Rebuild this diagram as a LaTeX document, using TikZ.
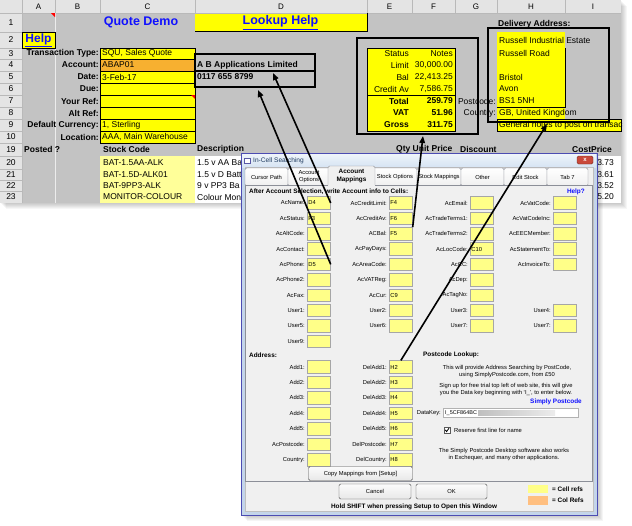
\documentclass[tikz,border=0pt]{standalone}
\usepackage{fontspec}
\setmainfont{Liberation Sans}
\usetikzlibrary{arrows.meta}

\definecolor{sheetgrey}{HTML}{C3C3C3}
\definecolor{hdrgrey}{HTML}{E4E4E4}
\definecolor{cellyellow}{HTML}{FFFF00}
\definecolor{paleyellow}{HTML}{FFFF99}
\definecolor{acorange}{HTML}{F7B030}
\definecolor{fieldyellow}{HTML}{FFFF88}
\definecolor{colorange}{HTML}{FFBF80}
\definecolor{winframe}{HTML}{C4D5EA}
\definecolor{wintitle}{HTML}{D6E4F3}
\definecolor{dlgface}{HTML}{F0F0F0}
\definecolor{tabedge}{HTML}{8C8F98}
\definecolor{linkblue}{HTML}{1010FF}
\definecolor{closered}{HTML}{C9493B}
\definecolor{titletext}{HTML}{1E3A5F}

\newcommand\sheetfont{\fontsize{8.5}{10}\selectfont}
\newcommand\dlgfont{\fontsize{5.8}{7}\selectfont}
\newcommand\dlgbold{\fontsize{6.4}{7.5}\selectfont\bfseries}

\begin{document}
\begin{tikzpicture}[x=1pt,y=-1pt,
    every node/.style={inner sep=0pt,font=\sheetfont},
    bcap/.style={anchor=east,font=\sheetfont\bfseries},
    ccell/.style={draw=black,line width=0.6pt},
    annot/.style={draw=black,line width=1.8pt},
    dlab/.style={anchor=east,font=\dlgfont},
    fld/.style={anchor=west,fill=fieldyellow,draw=gray!70,line width=0.7pt,
      minimum height=12.5pt,text width=21pt,inner sep=1pt,align=left,font=\dlgfont},
    tabbox/.style={draw=tabedge,top color=white,bottom color=gray!12,
      rounded corners=1.5pt,minimum height=18pt,align=center,font=\dlgfont},
    btn/.style={draw=gray!60!black,top color=gray!3,bottom color=gray!18,
      rounded corners=1.5pt,font=\dlgfont},
    arr/.style={-{Triangle[length=7pt,width=5.5pt]},line width=1.6pt}]

\useasboundingbox (0,0) rectangle (632,525);
\fill[white] (0,0) rectangle (632,525);

% sheet shadow
\foreach \s in {1,...,6}
  \fill[black,opacity=0.035] (\s,\s) rectangle (621+\s,203+\s);

% sheet
\fill[sheetgrey] (0,0) rectangle (621,203);
\fill[hdrgrey] (0,0) rectangle (621,13);
\fill[hdrgrey] (0,13) rectangle (22,203);
\foreach \x in {22,55,100,195,367,412,455,497,565}
  \draw[gray!55] (\x,0) -- (\x,13);
\foreach \y in {32,48,59,71,83,95,107,119,131,143,156,169,180,191}
  \draw[gray!55] (0,\y) -- (22,\y);
\draw[gray!55] (0,13) -- (621,13);
\draw[gray!55] (22,13) -- (22,203);
\draw[gray!15] (55,13) -- (55,203);
\foreach \x/\cl in {38.5/A,77.5/B,147.5/C,281/D,389.5/E,433.5/F,476/G,531/H,593/I}
  \node[font=\fontsize{8}{9}\selectfont] (col\cl) at (\x,7) {\cl};
\foreach \y/\n in {22.5/1,40/2,53.5/3,65/4,77/5,89/6,101/7,113/8,125/9,137/10,
    149.5/19,162.5/20,174.5/21,185.5/22,197/23}
  \node (row\n) at (11,\y) {\n};

% rows 1 and 2
\node[font=\fontsize{12.5}{14}\selectfont\bfseries,text=linkblue] (title) at (141,22.5) {Quote Demo};
\fill[cellyellow] (195,14) rectangle (367,31);
\draw[line width=0.8pt] (195,31) -- (367,31) -- (367,13);
\node[font=\fontsize{12.5}{14}\selectfont\bfseries,text=linkblue] (lookup) at (280.5,22.5) {\underline{Lookup Help}};
\node[fill=cellyellow,draw=black,line width=0.6pt,minimum width=33pt,minimum height=16pt,
  font=\fontsize{12}{14}\selectfont\bfseries,text=linkblue] (help) at (38.5,40) {\underline{Help}};
\fill[red] (51,13) -- (55,13) -- (55,17) -- cycle;

% header block
\foreach \rw/\y/\t in {3/53.5/Transaction Type:,4/65/Account:,5/77/Date:,6/89/Due:,
    7/101/Your Ref:,8/113/Alt Ref:,9/125/Default Currency:,10/137/Location:}
  \node[bcap] (lbl\rw) at (99,\y) {\t};
\foreach \rw/\a/\b/\cl/\vl in {3/48/59/cellyellow/{SQU, Sales Quote},4/59/71/acorange/ABAP01,
    5/71/83/cellyellow/3-Feb-17,6/83/95/cellyellow/{},7/95/107/cellyellow/{},
    8/107/119/cellyellow/{},9/119/131/cellyellow/{1, Sterling},
    10/131/143/cellyellow/{AAA, Main Warehouse}}{
  \draw[ccell,fill=\cl] (100,\a) rectangle (195,\b);
  \node[anchor=west] (val\rw) at (102,{(\a+\b)/2}) {\vl};
}
\fill[red] (191,95) -- (195,95) -- (195,99) -- cycle;
\node[anchor=west,font=\sheetfont\bfseries] (acname) at (197,65) {A B Applications Limited};
\node[anchor=west,font=\sheetfont\bfseries] (acphone) at (197,77) {0117 655 8799};

% totals block
\draw[ccell,fill=cellyellow] (367,48) rectangle (455,131);
\draw[line width=0.8pt] (367,95) -- (455,95);
\foreach \rw/\y/\lb/\vl in {3/53.5/Status/Notes,4/65/Limit/{30,000.00},
    5/77/Bal/{22,413.25},6/89/Credit Av/{7,586.75}}{
  \node[anchor=east] (flab\rw) at (409,\y) {\lb};
  \node[anchor=east] (fval\rw) at (453,\y) {\vl};
}
\foreach \rw/\y/\lb/\vl in {7/101/Total/259.79,8/113/VAT/51.96,9/125/Gross/311.75}{
  \node[anchor=east,font=\sheetfont\bfseries] (flab\rw) at (409,\y) {\lb};
  \node[anchor=east,font=\sheetfont\bfseries] (fval\rw) at (453,\y) {\vl};
}

% delivery address
\node[anchor=west,font=\sheetfont\bfseries] (deladdr) at (498,24) {Delivery Address:};
\fill[cellyellow] (497,32) rectangle (565,119);
\draw[line width=0.8pt] (565,48) -- (565,107) -- (497,107);
\foreach \rw/\y/\vl in {2/40/Russell Industrial Estate,3/53.5/Russell Road,5/77/Bristol,
    6/89/Avon,7/101/BS1 5NH,8/113/{GB, United Kingdom}}
  \node[anchor=west] (del\rw) at (499,\y) {\vl};
\node[anchor=east] (pclab) at (496,101) {Postcode:};
\node[anchor=east] (ctlab) at (496,113) {Country:};
\draw[ccell,fill=cellyellow] (497,119) rectangle (621,131);
\node[anchor=west] (notes) at (499,125) {General notes to post on transac};

% stock lines
\node[anchor=west,font=\sheetfont\bfseries] (posted) at (24,149.5) {Posted ?};
\node[anchor=west,font=\sheetfont\bfseries] (stockhdr) at (103,149.5) {Stock Code};
\node[anchor=west,font=\sheetfont\bfseries] (deschdr) at (197,149.5) {Description};
\node[anchor=west,font=\sheetfont\bfseries] (qtyhdr) at (396,149.5) {Qty Unit Price};
\node[anchor=west,font=\sheetfont\bfseries] (dischdr) at (460,149.5) {Discount};
\node[anchor=west,font=\sheetfont\bfseries] (costhdr) at (572,149.5) {CostPrice};
\fill[white] (195,156) rectangle (621,203);
\fill[paleyellow] (100,156) rectangle (195,203);
\foreach \rw/\y/\sc/\ds/\pr in {20/162.5/BAT-1.5AA-ALK/1.5 v AA Ba/3.73,
    21/174.5/BAT-1.5D-ALK01/1.5 v D Batt/3.61,22/185.5/BAT-9PP3-ALK/9 v PP3 Ba/3.52,
    23/197/MONITOR-COLOUR/Colour Mon/5.20}{
  \node[anchor=west] (code\rw) at (103,\y) {\sc};
  \node[anchor=west] (desc\rw) at (197,\y) {\ds};
  \node[anchor=east] (cost\rw) at (614,\y) {\pr};
}

% marked cells
\node[annot,minimum width=120pt,minimum height=17pt] (boxD4) at (255,62.5) {};
\node[annot,minimum width=120pt,minimum height=16pt] (boxD5) at (255,79) {};
\node[annot,minimum width=121pt,minimum height=96pt] (boxF) at (417.5,86) {};
\node[annot,minimum width=121pt,minimum height=94pt] (boxDel) at (548.5,75) {};

% dialog window
\foreach \s in {1,...,6}
  \fill[black,opacity=0.04] (241+\s,153+\s) rectangle (597+\s,515+\s);
\fill[winframe] (241,153) rectangle (597,515);
\shade[top color=white!60!wintitle,bottom color=wintitle] (242,154) rectangle (596,167);
\draw[gray!60!blue] (241,153) rectangle (597,515);
\fill[dlgface] (245,167) rectangle (593,511);
\draw[gray!50] (245,167) rectangle (593,511);
\node[draw=gray!70!blue,fill=white,minimum width=6pt,minimum height=5pt] (dlgicon) at (247.5,160.5) {};
\node[anchor=west,font=\fontsize{6.6}{8}\selectfont,text=titletext] (dlgtitle) at (253,160.5) {In-Cell Searching};
\node[fill=closered,draw=closered!60!black,rounded corners=1.5pt,minimum width=16pt,minimum height=8pt,
  text=white,font=\fontsize{6}{6}\selectfont\bfseries] (dlgclose) at (585,160) {x};

% tabs
\foreach \a/\b/\t [count=\i] in {245/288/Cursor Path,288/330/{Account\\Options},
    373/417/Stock Options,417/461/Stock Mappings,461/504/Other,504/547/Edit Stock,547/588/Tab 7}
  \node[tabbox,minimum width={\b-\a}] (tab\i) at ({(\a+\b)/2},177) {\t};
\draw[tabedge,fill=dlgface] (245,185) rectangle (592,481);
\fill[dlgface] (328,166) rectangle (375,186);
\draw[tabedge,rounded corners=1.5pt] (328,185) -- (328,166) -- (375,166) -- (375,185);
\node[align=center,font=\dlgbold] (tab0) at (351.5,176) {Account\\Mappings};

% account mappings
\node[anchor=west,font=\dlgbold] (afterhdr) at (249,192) {After Account Selection, write Account info to Cells:};
\node[anchor=east,font=\dlgbold,text=linkblue] (helpq) at (585,192) {Help?};
\foreach \rw/\lb/\vl in {1/AcName/D4,2/AcStatus/F3,3/AcAltCode/{},4/AcContact/{},5/AcPhone/D5,
    6/AcPhone2/{},7/AcFax/{},8/User1/{},9/User5/{},10/User9/{}}{
  \node[dlab] (l\lb) at (305,{203+(\rw-1)*15.35}) {\lb:};
  \node[fld] (f\lb) at (307,{203+(\rw-1)*15.35}) {\vl};
}
\foreach \rw/\lb/\vl in {1/AcCreditLimit/F4,2/AcCreditAv/F6,3/ACBal/F5,4/AcPayDays/{},
    5/AcAreaCode/{},6/AcVATReg/{},7/AcCur/C9,8/User2/{},9/User6/{}}{
  \node[dlab] (l\lb) at (387,{203+(\rw-1)*15.35}) {\lb:};
  \node[fld] (f\lb) at (389,{203+(\rw-1)*15.35}) {\vl};
}
\foreach \rw/\lb/\vl in {1/AcEmail/{},2/AcTradeTerms1/{},3/AcTradeTerms2/{},4/AcLocCode/C10,
    5/AcCC/{},6/AcDep/{},7/AcTagNo/{},8/User3/{},9/User7/{}}{
  \node[dlab] (l\lb) at (468,{203+(\rw-1)*15.35}) {\lb:};
  \node[fld] (f\lb) at (470,{203+(\rw-1)*15.35}) {\vl};
}
\foreach \rw/\lb in {1/AcVatCode,2/AcVatCodeInc,3/AcEECMember,4/AcStatementTo,5/AcInvoiceTo,
    8/User4,9/User7}{
  \node[dlab] (m\lb) at (551,{203+(\rw-1)*15.35}) {\lb:};
  \node[fld] (g\lb) at (553,{203+(\rw-1)*15.35}) {};
}

% address
\node[anchor=west,font=\dlgbold] (addrhdr) at (249,355) {Address:};
\foreach \rw/\lb in {1/Add1,2/Add2,3/Add3,4/Add4,5/Add5,6/AcPostcode,7/Country}{
  \node[dlab] (l\lb) at (305,{367+(\rw-1)*15.45}) {\lb:};
  \node[fld] (f\lb) at (307,{367+(\rw-1)*15.45}) {};
}
\foreach \rw/\lb/\vl in {1/DelAdd1/H2,2/DelAdd2/H3,3/DelAdd3/H4,4/DelAdd4/H5,5/DelAdd5/H6,
    6/DelPostcode/H7,7/DelCountry/H8}{
  \node[dlab] (l\lb) at (387,{367+(\rw-1)*15.45}) {\lb:};
  \node[fld] (f\lb) at (389,{367+(\rw-1)*15.45}) {\vl};
}

% postcode lookup
\node[anchor=west,font=\dlgbold] (pchdr) at (423,355) {Postcode Lookup:};
\node[align=center,font=\dlgfont] (pcinfo1) at (507,371.5) {This will provide Address Searching by PostCode,\\using SimplyPostcode.com, from £50};
\node[align=center,font=\dlgfont] (pcinfo2) at (506,389.5) {Sign up for free trial top left of web site, this will give\\you the Data key beginning with `I\_', to enter below.};
\node[anchor=east,font=\dlgbold,text=linkblue] (simplypc) at (582,402) {Simply Postcode};
\node[dlab] (dklab) at (441,413) {DataKey:};
\node[anchor=west,draw=gray!60,fill=white,minimum width=135pt,minimum height=9pt] (datakey) at (443,413) {};
\shade[left color=gray!50,right color=gray!15] (478,410.5) rectangle (555,415.5);
\node[anchor=west,font=\fontsize{5.5}{6}\selectfont] (dkval) at (445,413) {I\_5CF864BC};
\node[draw=gray!70!black,fill=white,minimum size=6pt] (chk) at (447,430) {};
\draw[line width=0.8pt] (445.2,429.8) -- (446.6,431.6) -- (449,428.2);
\node[anchor=west,font=\dlgfont] (chklab) at (454,430) {Reserve first line for name};
\node[align=center,font=\dlgfont] (desktop) at (504,454.5) {The Simply Postcode Desktop software also works\\in Exchequer, and many other applications.};

% buttons and key
\node[btn,minimum width=104pt,minimum height=14pt] (copybtn) at (360.5,473.5) {Copy Mappings from [Setup]};
\node[btn,minimum width=72pt,minimum height=15pt] (cancelbtn) at (375,491.5) {Cancel};
\node[btn,minimum width=71pt,minimum height=15pt] (okbtn) at (451.5,491.5) {OK};
\node[font=\dlgbold] (shifthint) at (414,507) {Hold SHIFT when pressing Setup to Open this Window};
\node[fill=fieldyellow,minimum width=20pt,minimum height=8pt] (keycell) at (538,489) {};
\node[fill=colorange,minimum width=20pt,minimum height=9pt] (keycol) at (538,500.5) {};
\node[anchor=west,font=\dlgbold] (keycelltxt) at (552,489) {= Cell refs};
\node[anchor=west,font=\dlgbold] (keycoltxt) at (552,500.5) {= Col Refs};

% arrows
\coordinate (tipD4) at (273,73);
\coordinate (tipD5) at (258,90);
\coordinate (tipF) at (423,136);
\coordinate (tipDel) at (547,124);
\draw[arr] (fAcName.east) -- (tipD4);
\draw[arr] (fAcPhone.east) -- (tipD5);
\draw[arr] (fACBal.north east) -- (tipF);
\draw[arr] (fDelAdd1.north) -- (tipDel);
\end{tikzpicture}
\end{document}
